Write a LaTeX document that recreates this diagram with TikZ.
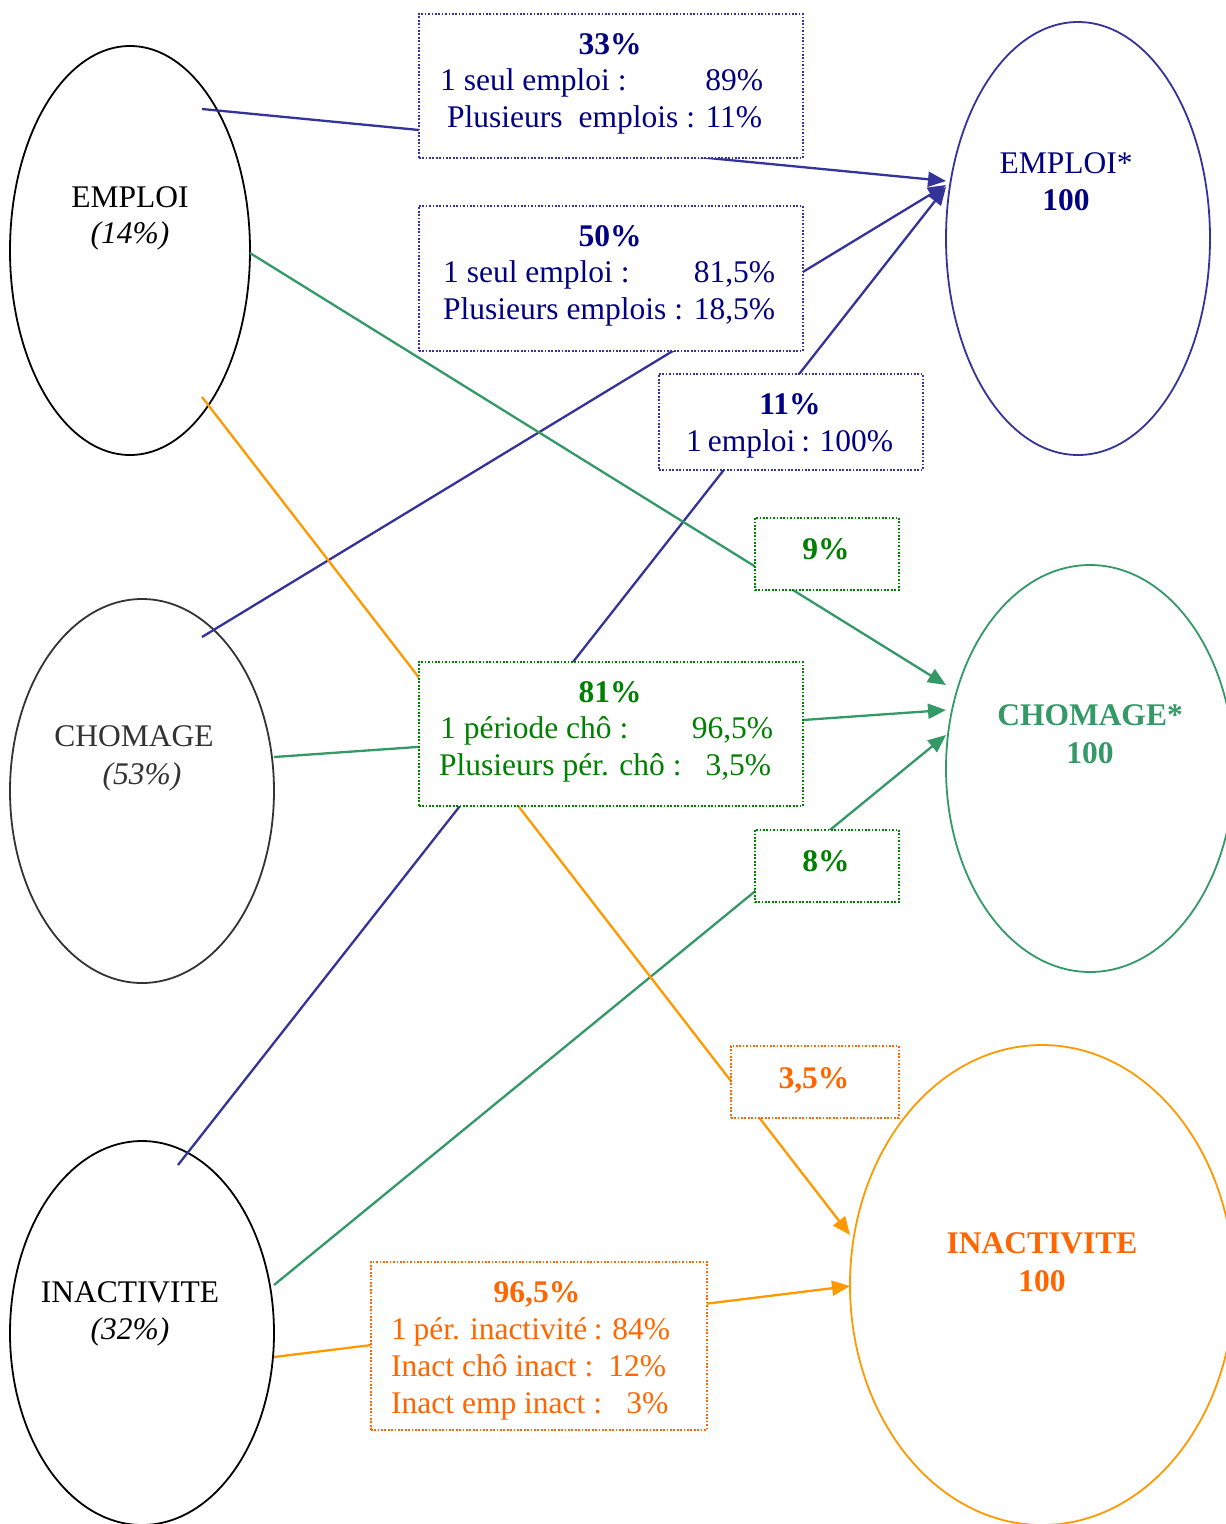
\documentclass[tikz,border=0pt]{standalone}
\usepackage{fontspec}
\setmainfont{Liberation Serif}
\usetikzlibrary{shapes.geometric,arrows.meta}
\definecolor{navyT}{HTML}{000080}
\definecolor{blueL}{HTML}{333399}
\definecolor{greenT}{HTML}{008000}
\definecolor{greenL}{HTML}{339966}
\definecolor{orangeT}{HTML}{FF6600}
\definecolor{orangeL}{HTML}{FF9900}
\definecolor{grayT}{HTML}{333333}
\begin{document}
\begin{tikzpicture}[x=1pt,y=-1pt,
  font=\fontsize{31.5}{37}\selectfont,
  ell/.style={draw, ellipse, inner sep=0pt, line width=1.8pt},
  conn/.style={line width=2.3pt},
  arr/.style={-{Triangle[length=18pt,width=15pt]}},
  databox/.style={fill=white, dash pattern=on 1.7pt off 1.7pt, line width=1.7pt, inner sep=0pt, anchor=north west},
  lbl/.style={inner sep=0pt, anchor=base},
  lblw/.style={inner sep=0pt, anchor=base west}]
\useasboundingbox (0,0) rectangle (1226,1524);
\clip (0,0) rectangle (1226,1524);
\fill[white] (0,0) rectangle (1226,1524);

% ellipses
\node[ell, draw=black, minimum width=240pt, minimum height=409pt] (emp) at (130,250.5) {};
\node[ell, draw=grayT, minimum width=264pt, minimum height=384pt] (cho) at (142,791) {};
\node[ell, draw=black, minimum width=264pt, minimum height=384pt] (ina) at (142,1333) {};
\node[ell, draw=blueL, minimum width=264pt, minimum height=433pt] (empS) at (1078,238.5) {};
\node[ell, draw=greenL, minimum width=288pt, minimum height=407pt] (choS) at (1090,768.5) {};
\node[ell, draw=orangeL, minimum width=384pt, minimum height=480pt] (inaS) at (1042,1285) {};

% connector end points
\coordinate (e1) at (202,109);
\coordinate (e2) at (250,253);
\coordinate (e3) at (202,397);
\coordinate (c1) at (202,637);
\coordinate (c2) at (274,757);
\coordinate (i1) at (178,1165);
\coordinate (i2) at (274,1285);
\coordinate (i3) at (274,1357);
\coordinate (tE1) at (946,181);
\coordinate (tE2) at (946,185);
\coordinate (tE3) at (946,187);
\coordinate (tC1) at (946,685);
\coordinate (tC2) at (946,710);
\coordinate (tC3) at (946,735);
\coordinate (tI1) at (850,1235);
\coordinate (tI2) at (850,1286);

% connectors
\draw[conn, blueL, arr] (e1) -- (tE1);
\draw[conn, blueL, arr] (c1) -- (tE2);
\draw[conn, blueL, arr] (i1) -- (tE3);
\draw[conn, greenL, arr] (e2) -- (tC1);
\draw[conn, greenL, arr] (c2) -- (tC2);
\draw[conn, greenL, arr] (i2) -- (tC3);
\draw[conn, orangeL, arr] (e3) -- (tI1);
\draw[conn, orangeL, arr] (i3) -- (tI2);

% boxes
\node[databox, draw=blueL, minimum width=384pt, minimum height=144pt] (b33) at (418,13) {};
\node[databox, draw=blueL, minimum width=384pt, minimum height=145pt] (b50) at (418,205) {};
\node[databox, draw=blueL, minimum width=264pt, minimum height=96pt] (b11) at (658,373) {};
\node[databox, draw=greenT, minimum width=144pt, minimum height=72pt] (b9) at (754,517) {};
\node[databox, draw=greenT, minimum width=384pt, minimum height=144pt] (b81) at (418,661) {};
\node[databox, draw=greenT, minimum width=144pt, minimum height=72pt] (b8) at (754,829) {};
\node[databox, draw=orangeT, minimum width=168pt, minimum height=72pt] (b35) at (730,1045) {};
\node[databox, draw=orangeT, minimum width=336pt, minimum height=168pt] (b96) at (370,1261) {};

% box texts
\begin{scope}[navyT]
\node[lbl] (t33a) at (610,54) {\bfseries 33\%};
\node[lblw] (t33b) at (440,90) {\makebox[323pt][s]{1 seul emploi :\hfill 89\%}};
\node[lblw] (t33c) at (447,127) {\makebox[315pt][s]{Plusieurs\ \ emplois : 11\%}};
\node[lbl] (t50a) at (610,246) {\bfseries 50\%};
\node[lblw] (t50b) at (443,282) {\makebox[332pt][s]{1 seul emploi :\hfill 81,5\%}};
\node[lblw] (t50c) at (443,319) {\makebox[332pt][s]{Plusieurs emplois : 18,5\%}};
\node[lbl] (t11a) at (790,414) {\bfseries 11\%};
\node[lblw] (t11b) at (686,451) {\makebox[207pt][s]{1 emploi : 100\%}};
\end{scope}
\begin{scope}[greenT]
\node[lbl] (t9) at (826,559) {\bfseries 9\%};
\node[lbl] (t81a) at (610,702) {\bfseries 81\%};
\node[lblw] (t81b) at (440,738) {\makebox[333pt][s]{1 période chô :\hfill 96,5\%}};
\node[lblw] (t81c) at (439,775) {\makebox[332pt][s]{Plusieurs pér. chô :\hfill 3,5\%}};
\node[lbl] (t8) at (826,871) {\bfseries 8\%};
\end{scope}
\begin{scope}[orangeT]
\node[lbl] (t35) at (814,1088) {\bfseries 3,5\%};
\node[lbl] (t96a) at (537,1302) {\bfseries 96,5\%};
\node[lblw] (t96b) at (391,1339) {\makebox[279pt][s]{1 pér. inactivité : 84\%}};
\node[lblw] (t96c) at (391,1376) {\makebox[275pt][s]{Inact chô inact :\hfill 12\%}};
\node[lblw] (t96d) at (391,1413) {\makebox[277pt][s]{Inact emp inact :\hfill 3\%}};
\end{scope}

% ellipse texts
\node[lbl, black] (le1) at (130,207) {EMPLOI};
\node[lbl, black] (le2) at (130,243) {\itshape (14\%)};
\node[lbl, grayT] (lc1) at (134,746) {CHOMAGE};
\node[lbl, grayT] (lc2) at (142,784) {\itshape (53\%)};
\node[lbl, black] (li1) at (130,1302) {INACTIVITE};
\node[lbl, black] (li2) at (130,1339) {\itshape (32\%)};
\node[lbl, navyT] (lE1) at (1066,173) {EMPLOI*};
\node[lbl, navyT] (lE2) at (1066,210) {\bfseries 100};
\node[lbl, greenL] (lC1) at (1090,725) {\bfseries CHOMAGE*};
\node[lbl, greenL] (lC2) at (1090,763) {\bfseries 100};
\node[lbl, orangeT] (lI1) at (1042,1253) {\bfseries INACTIVITE};
\node[lbl, orangeT] (lI2) at (1042,1291) {\bfseries 100};
\end{tikzpicture}
\end{document}
